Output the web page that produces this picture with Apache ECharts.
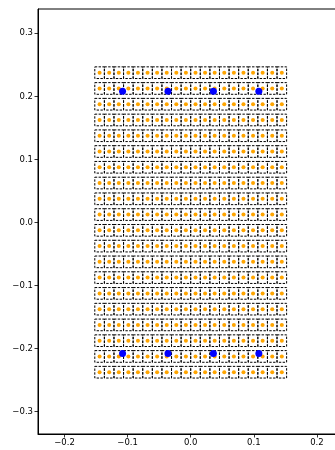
<!DOCTYPE html>
<html>
<head>
<meta charset="utf-8">
<script src="https://cdn.jsdelivr.net/npm/echarts@6/dist/echarts.min.js"></script>
<style>
  html, body { margin: 0; padding: 0; background: #fff; }
  #chart { width: 335px; height: 450px; }
</style>
</head>
<body>
<div id="chart"></div>
<script>
// Cell centres of the 20 x 20 pad layout
const colCenters = [
  -0.1444, -0.1292, -0.1140, -0.0988, -0.0836, -0.0684, -0.0532, -0.0380, -0.0228, -0.0076,
   0.0076,  0.0228,  0.0380,  0.0532,  0.0684,  0.0836,  0.0988,  0.1140,  0.1292,  0.1444
];
const rowCenters = [
   0.2375,  0.2125,  0.1875,  0.1625,  0.1375,  0.1125,  0.0875,  0.0625,  0.0375,  0.0125,
  -0.0125, -0.0375, -0.0625, -0.0875, -0.1125, -0.1375, -0.1625, -0.1875, -0.2125, -0.2375
];
// Marker positions
const markerX = [-0.108, -0.036, 0.036, 0.108, -0.108, -0.036, 0.036, 0.108];
const markerY = [0.208, 0.208, 0.208, 0.208, -0.208, -0.208, -0.208, -0.208];
// Tick labels
const xTicks = [-0.2, -0.1, 0.0, 0.1, 0.2];
const yTicks = [-0.3, -0.2, -0.1, 0.0, 0.1, 0.2, 0.3];

const CELL_W = 0.0152;
const CELL_H = 0.0185;

const cells = [];
rowCenters.forEach(y => colCenters.forEach(x => cells.push([x, y])));
const markers = markerX.map((x, i) => [x, markerY[i]]);

const fmt = v => (v < 0 ? '\u2212' : '') + Math.abs(v).toFixed(1);
const FONT = 'DejaVu Sans';

const chart = echarts.init(document.getElementById('chart'), null, { renderer: 'canvas' });
chart.setOption({
  animation: false,
  backgroundColor: '#ffffff',
  grid: {
    left: 38, top: 9, right: -8.4, bottom: 16,
    outerBoundsMode: 'none',
    containLabel: false,
    show: true, borderColor: '#000', borderWidth: 1, backgroundColor: 'transparent'
  },
  xAxis: {
    type: 'value', min: -0.242, max: 0.242,
    axisLine: { show: true, onZero: false, lineStyle: { color: '#000', width: 1 } },
    splitLine: { show: false },
    axisTick: { show: true, length: 3.5, customValues: xTicks, lineStyle: { color: '#000', width: 0.8 } },
    axisLabel: { customValues: xTicks, formatter: fmt, color: '#000', fontFamily: FONT, fontSize: 8.5, margin: 4, hideOverlap: false }
  },
  yAxis: {
    type: 'value', min: -0.3355, max: 0.3385,
    axisLine: { show: true, onZero: false, lineStyle: { color: '#000', width: 1 } },
    splitLine: { show: false },
    axisTick: { show: true, length: 3.5, customValues: yTicks, lineStyle: { color: '#000', width: 0.8 } },
    axisLabel: { customValues: yTicks, formatter: fmt, color: '#000', fontFamily: FONT, fontSize: 8.5, margin: 5 }
  },
  series: [
    {
      type: 'custom',
      data: cells,
      z: 2,
      silent: true,
      clip: false,
      renderItem: function (params, api) {
        const c = api.coord([api.value(0), api.value(1)]);
        const s = api.size([CELL_W, CELL_H]);
        return {
          type: 'rect',
          shape: { x: c[0] - s[0] / 2, y: c[1] - s[1] / 2, width: s[0], height: s[1] },
          style: { fill: 'none', stroke: '#000', lineWidth: 1, lineDash: [2.4, 1.4] }
        };
      }
    },
    {
      type: 'scatter',
      data: cells,
      z: 3,
      symbol: 'circle',
      symbolSize: 4,
      itemStyle: { color: '#ffa500', opacity: 1 }
    },
    {
      type: 'scatter',
      data: markers,
      z: 4,
      symbol: 'circle',
      symbolSize: 7,
      itemStyle: { color: '#0000ff', opacity: 1 }
    }
  ]
});
</script>
</body>
</html>
